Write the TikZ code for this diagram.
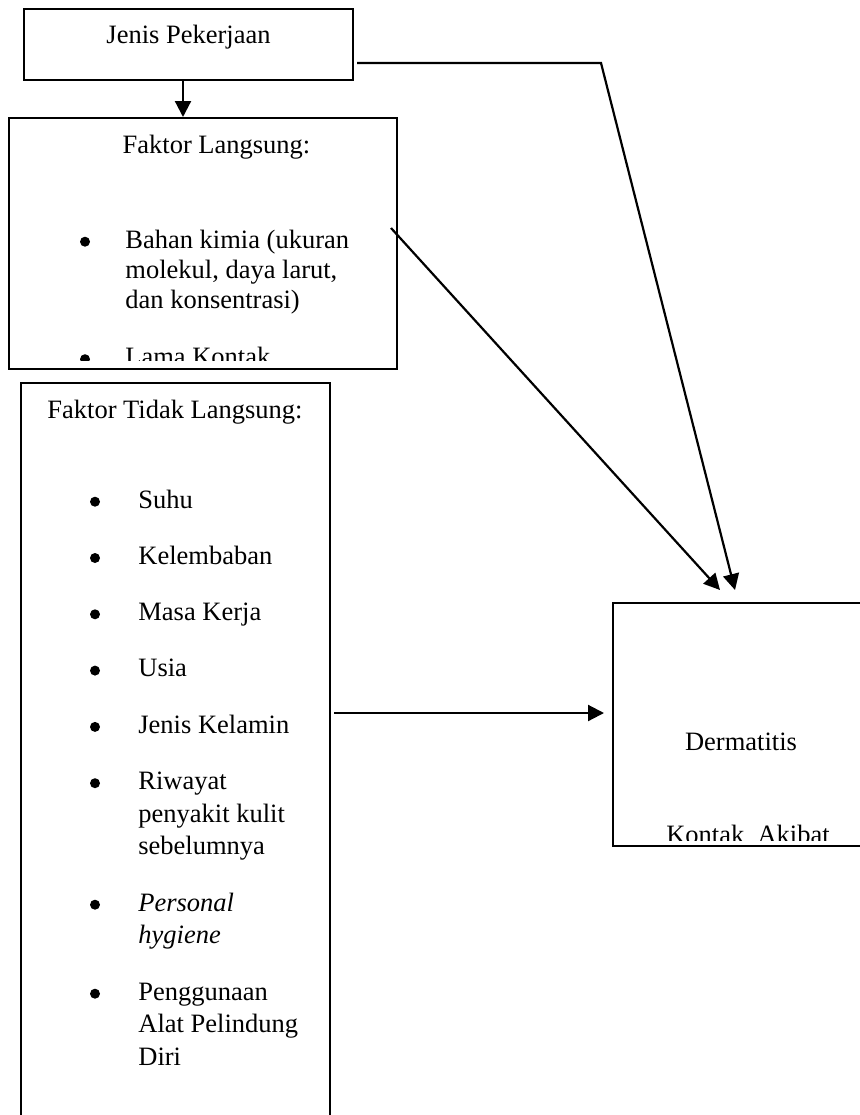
\documentclass[tikz,border=0pt]{standalone}
\usepackage{fontspec}
\setmainfont{Liberation Serif}
\usetikzlibrary{arrows.meta}

\tikzset{
  box/.style={draw, line width=1pt, inner sep=0pt},
  txt/.style={inner sep=0pt, font=\fontsize{13.25pt}{15pt}\selectfont},
  txtwide/.style={inner sep=0pt, font=\fontsize{13.25pt}{16.25pt}\selectfont},
  dot/.style={circle, fill, inner sep=0pt, minimum size=5pt},
  arr/.style={line width=1.1pt, -{Triangle[length=8pt,width=8pt]}},
}

\begin{document}
\begin{tikzpicture}[x=.5pt, y=-.5pt]
      \useasboundingbox (0,0) rectangle (859,1115);

      % Jenis Pekerjaan
      \node (jenis) at (188.5,44.5) [box, minimum width=164.5pt, minimum height=35.5pt] {};
      \node (jenist) at (188.5,43) [txt, anchor=base] {Jenis Pekerjaan};

      % Faktor Langsung
      \node (langsung) at (203,243.5) [box, minimum width=194pt, minimum height=125.5pt] {};
      \node (langt) at (216.5,153) [txt, anchor=base] {Faktor Langsung:};
      \node (l1) at (85,241.7) [dot] {};
      \node (l1t) at (125,308) [txt, anchor=base west, align=left]
        {Bahan kimia (ukuran\\molekul, daya larut,\\dan konsentrasi)};
      \begin{scope}
        \clip (9,118) rectangle (397,360);
        \node (l2) at (85,359.2) [dot] {};
        \node (l2t) at (125,365.5) [txt, anchor=base west] {Lama Kontak};
      \end{scope}

      % Faktor Tidak Langsung
      \node (tidak) at (175.5,756.5) [box, minimum width=154.5pt, minimum height=373.5pt] {};
      \node (tidakt) at (175,418) [txt, anchor=base] {Faktor Tidak Langsung:};
      \node (t1) at (95,501.7) [dot] {};
      \node (t1t) at (138,508) [txtwide, anchor=base west] {Suhu};
      \node (t2) at (95,558) [dot] {};
      \node (t2t) at (138,564.3) [txtwide, anchor=base west] {Kelembaban};
      \node (t3) at (95,614.3) [dot] {};
      \node (t3t) at (138,620.6) [txtwide, anchor=base west] {Masa Kerja};
      \node (t4) at (95,670.6) [dot] {};
      \node (t4t) at (138,676.9) [txtwide, anchor=base west] {Usia};
      \node (t5) at (95,726.9) [dot] {};
      \node (t5t) at (138,733.2) [txtwide, anchor=base west] {Jenis Kelamin};
      \node (t6) at (95,783.2) [dot] {};
      \node (t6t) at (138,854.5) [txtwide, anchor=base west, align=left]
        {Riwayat\\penyakit kulit\\sebelumnya};
      \node (t7) at (95,904.7) [dot] {};
      \node (t7t) at (138,943.5) [txtwide, anchor=base west, align=left]
        {\textit{Personal}\\\textit{hygiene}};
      \node (t8) at (95,993.7) [dot] {};
      \node (t8t) at (138,1065) [txtwide, anchor=base west, align=left]
        {Penggunaan\\Alat Pelindung\\Diri};

      % Dermatitis
      \node (derm) at (746.5,724.5) [box, minimum width=133.5pt, minimum height=121.5pt] {};
      \node (dermt) at (741,750) [txt, anchor=base] {Dermatitis};
      \begin{scope}
        \clip (613,603) rectangle (880,840);
        \node (dermt2) at (748,843) [txt, anchor=base] {Kontak\ \ Akibat};
      \end{scope}

      % connectors
      \coordinate (k0) at (183,0);
      \coordinate (k1) at (601,63);
      \coordinate (k2) at (735,590);
      \coordinate (k3) at (391,228);
      \coordinate (k4) at (720,590);
      \coordinate (k5) at (0,713);
      \draw[arr] (jenis.south -| k0) -- (langsung.north -| k0);
      \draw[arr, shorten <=1.5pt] (jenis.east |- k1) -- (k1) -- (k2);
      \draw[arr] (k3) -- (k4);
      \draw[arr, shorten <=1.5pt, shorten >=4pt] (tidak.east |- k5) -- (derm.west |- k5);

\end{tikzpicture}
\end{document}
